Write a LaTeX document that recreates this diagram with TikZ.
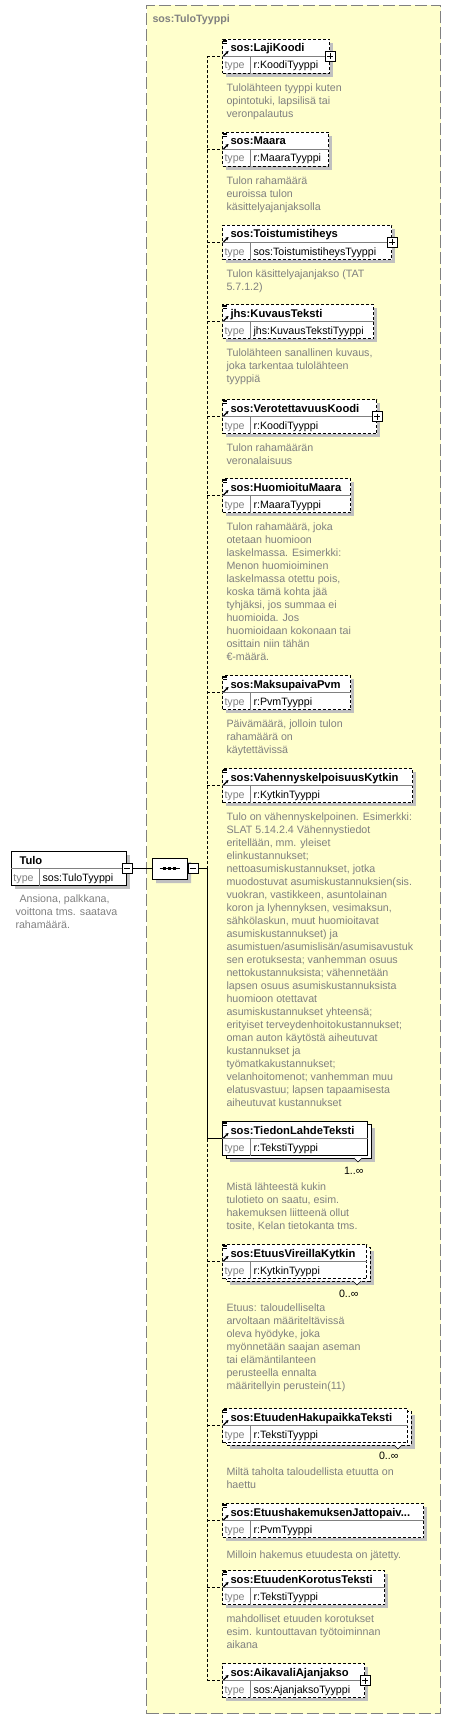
\documentclass[tikz,border=0pt]{standalone}
\usepackage{fontspec}
\setmainfont{Liberation Sans}
\usetikzlibrary{arrows.meta,shapes.misc,positioning}

\definecolor{typefill}{HTML}{FFFFCC}
\definecolor{docgray}{HTML}{808080}
\definecolor{shadowgray}{HTML}{C0C0C0}

\newcommand{\jattoname}{sos:EtuushakemuksenJattopaiv...}

\tikzset{
  optline/.style={dash pattern=on 2.25pt off 1.5pt},
  reqline/.style={},
  elbox/.style={draw,fill=white,inner sep=0,minimum height=25.5pt,anchor=north west},
  elname/.style={font=\fontsize{8.4}{10}\selectfont\bfseries,inner sep=0,anchor=base west},
  eltype/.style={font=\fontsize{8}{10}\selectfont,inner sep=0,anchor=base west},
  typelbl/.style={eltype,text=docgray},
  multlbl/.style={eltype,anchor=base east},
  desc/.style={font=\fontsize{8}{9.75}\selectfont,text=docgray,align=left,inner sep=0,anchor=north west,
    execute at begin node=\strut},
  plusbox/.style={draw,solid,fill=white,inner sep=0,minimum size=7.5pt,
    path picture={\draw[line width=0.6pt] ([xshift=1.5pt]path picture bounding box.west) -- ([xshift=-1.5pt]path picture bounding box.east)
      ([yshift=-1.5pt]path picture bounding box.north) -- ([yshift=1.5pt]path picture bounding box.south);}},
  minusbox/.style={draw,solid,fill=white,inner sep=0,minimum size=7.5pt,
    path picture={\draw[line width=0.6pt] ([xshift=1.5pt]path picture bounding box.west) -- ([xshift=-1.5pt]path picture bounding box.east);}},
  seqshape/.style={chamfered rectangle,chamfered rectangle xsep=3.75pt,draw,fill=white,inner sep=0,
    minimum width=26.25pt,minimum height=15.75pt},
}

\begin{document}
\begin{tikzpicture}[x=0.75pt,y=-0.75pt,line width=0.75pt]
    \useasboundingbox (0,0) rectangle (451,1719);

    % complex type frame
    \node[draw=docgray,fill=typefill,dash pattern=on 9pt off 3pt,inner sep=0,anchor=north west,
          minimum width=220.5pt,minimum height=1281pt] (tuloTyyppi) at (146,5) {};
    \node[font=\fontsize{8}{10}\selectfont\bfseries,text=docgray,inner sep=0,anchor=base west]
          (tuloTyyppi-t) at (152,23) {sos:TuloTyyppi};

    % root element
    \fill[shadowgray] (15,855) rectangle (130,889);
    \node[elbox,minimum width=86.25pt] (tulo) at (11,851) {};
    \draw[docgray] (tulo.west) -- (tulo.east);
    \draw[docgray] ([shift={(28,0)}]tulo.west) -- ([shift={(28,0)}]tulo.south west);
    \node[elname] (tulo-n) at ([shift={(8,13)}]tulo.north west) {Tulo};
    \node[typelbl] (tulo-tl) at ([shift={(2,30)}]tulo.north west) {type};
    \node[eltype] (tulo-ty) at ([shift={(31,30)}]tulo.north west) {sos:TuloTyyppi};
    \node[minusbox] (tulo-m) at (tulo.east) {};
    \node[desc] (tulo-d) at (15,894) {\hspace{3pt}Ansiona, palkkana,\\voittona tms. saatava\\rahamäärä.};

    % sequence
    \node[seqshape,fill=shadowgray,draw=none] (seq-s) at (173.5,872.5) {};
    \node[seqshape] (seq) at (169.5,868.5) {};
    \draw ([shift={(-10,0)}]seq.center) -- ([shift={(10,0)}]seq.center);
    \foreach \dx in {-5,0,5}{%
        \fill ([shift={(\dx-1.5,-1.5)}]seq.center) rectangle +(3,3);
    }
    \node[minusbox,anchor=west] (seq-m) at (seq.east) {};
    \draw (tulo-m) -- (seq);
    \coordinate (spine) at (207,868.5);
    \draw (seq-m) -- (spine);

    % child elements
    \foreach \id/\y/\r/\nm/\ty/\bs/\mu in {
        laji/39/329/sos:LajiKoodi/r:KoodiTyyppi/optline/0,
        maara/132/328/sos:Maara/r:MaaraTyyppi/optline/0,
        toist/225/391/sos:Toistumistiheys/sos:ToistumistiheysTyyppi/optline/0,
        kuvaus/304/373/jhs:KuvausTeksti/jhs:KuvausTekstiTyyppi/optline/0,
        verot/399/376/sos:VerotettavuusKoodi/r:KoodiTyyppi/optline/0,
        huom/478/350/sos:HuomioituMaara/r:MaaraTyyppi/optline/0,
        maksu/675/350/sos:MaksupaivaPvm/r:PvmTyyppi/optline/0,
        vahen/768/412/sos:VahennyskelpoisuusKytkin/r:KytkinTyyppi/optline/0,
        tiedon/1121/367/sos:TiedonLahdeTeksti/r:TekstiTyyppi/reqline/1,
        vireil/1244/366/sos:EtuusVireillaKytkin/r:KytkinTyyppi/optline/1,
        haku/1408/407/sos:EtuudenHakupaikkaTeksti/r:TekstiTyyppi/optline/1,
        jatto/1503/423/\jattoname/r:PvmTyyppi/optline/0,
        korot/1570/384/sos:EtuudenKorotusTeksti/r:TekstiTyyppi/optline/0,
        aika/1663/364/sos:AikavaliAjanjakso/sos:AjanjaksoTyyppi/optline/0}{%
        \ifnum\mu=1
            \fill[shadowgray] (230,\y+7) rectangle (\r+8,\y+41);
            \draw[fill=white,\bs] (226,\y+3) rectangle (\r+4,\y+37);
            \draw[fill=white,solid,line width=0.5pt] (\r-13,\y+37) -- (\r-9,\y+41) -- (\r-5,\y+37);
        \else
            \fill[shadowgray] (226,\y+4) rectangle (\r+4,\y+38);
        \fi
        \node[elbox,\bs,minimum width={(\r-222)*0.75pt}] (\id) at (222,\y) {};
        \draw[docgray] (\id.west) -- (\id.east);
        \draw[docgray] ([shift={(28,0)}]\id.west) -- ([shift={(28,0)}]\id.south west);
        \node[elname] (\id-n) at ([shift={(8,13)}]\id.north west) {\nm};
        \node[typelbl] (\id-tl) at ([shift={(2,30)}]\id.north west) {type};
        \node[eltype] (\id-ty) at ([shift={(31,30)}]\id.north west) {\ty};
        \draw[-{Stealth[length=2.2pt,width=2.4pt]},line width=1pt] ([shift={(1.5,-0.5)}]\id.west) -- +(5,-5);
    }

    % annotation marks
    \foreach \id in {laji,maara,kuvaus,verot,huom,maksu,vahen,tiedon,vireil,haku,jatto,korot}{%
        \draw[line width=0.5pt] ([shift={(1,1)}]\id.north west) -- +(4,0)
            ([shift={(1,2.5)}]\id.north west) -- +(4,0)
            ([shift={(1,4)}]\id.north west) -- +(4,0);
    }

    % expandable children
    \foreach \id in {laji,toist,verot,aika}{%
        \node[plusbox] (\id-p) at (\id.east) {};
    }

    % occurrences
    \node[multlbl] (tiedon-o) at ([shift={(-4,18)}]tiedon.south east) {1..∞};
    \node[multlbl] (vireil-o) at ([shift={(-8,18)}]vireil.south east) {0..∞};
    \node[multlbl] (haku-o) at ([shift={(-9,16)}]haku.south east) {0..∞};

    % connectors
    \draw[optline] (spine) -- (spine |- laji.west);
    \draw (spine) -- (spine |- tiedon.west);
    \draw[optline] (spine |- tiedon.west) -- (spine |- aika.west);
    \foreach \id in {laji,maara,toist,kuvaus,verot,huom,maksu,vahen,vireil,haku,jatto,korot,aika}{%
        \draw[optline] (spine |- \id.west) -- (\id.west);
    }
    \draw (spine |- tiedon.west) -- (tiedon.west);

    % documentation
    \node[desc] (laji-d) at ([shift={(4,9)}]laji.south west) {Tulolähteen tyyppi kuten\\opintotuki, lapsilisä tai\\veronpalautus};
    \node[desc] (maara-d) at ([shift={(4,9)}]maara.south west) {Tulon rahamäärä\\euroissa tulon\\käsittelyajanjaksolla};
    \node[desc] (toist-d) at ([shift={(4,9)}]toist.south west) {Tulon käsittelyajanjakso (TAT\\5.7.1.2)};
    \node[desc] (kuvaus-d) at ([shift={(4,9)}]kuvaus.south west) {Tulolähteen sanallinen kuvaus,\\joka tarkentaa tulolähteen\\tyyppiä};
    \node[desc] (verot-d) at ([shift={(4,9)}]verot.south west) {Tulon rahamäärän\\veronalaisuus};
    \node[desc] (huom-d) at ([shift={(4,9)}]huom.south west) {Tulon rahamäärä, joka\\otetaan huomioon\\laskelmassa. Esimerkki:\\Menon huomioiminen\\laskelmassa otettu pois,\\koska tämä kohta jää\\tyhjäksi, jos summaa ei\\huomioida. Jos\\huomioidaan kokonaan tai\\osittain niin tähän\\€-määrä.};
    \node[desc] (maksu-d) at ([shift={(4,9)}]maksu.south west) {Päivämäärä, jolloin tulon\\rahamäärä on\\käytettävissä};
    \node[desc] (vahen-d) at ([shift={(4,9)}]vahen.south west) {Tulo on vähennyskelpoinen. Esimerkki:\\SLAT 5.14.2.4 Vähennystiedot\\eritellään, mm. yleiset\\elinkustannukset;\\nettoasumiskustannukset, jotka\\muodostuvat asumiskustannuksien(sis.\\vuokran, vastikkeen, asuntolainan\\koron ja lyhennyksen, vesimaksun,\\sähkölaskun, muut huomioitavat\\asumiskustannukset) ja\\asumistuen/asumislisän/asumisavustuk\\sen erotuksesta; vanhemman osuus\\nettokustannuksista; vähennetään\\lapsen osuus asumiskustannuksista\\huomioon otettavat\\asumiskustannukset yhteensä;\\erityiset terveydenhoitokustannukset;\\oman auton käytöstä aiheutuvat\\kustannukset ja\\työmatkakustannukset;\\velanhoitomenot; vanhemman muu\\elatusvastuu; lapsen tapaamisesta\\aiheutuvat kustannukset};
    \node[desc] (tiedon-d) at ([shift={(4,26)}]tiedon.south west) {Mistä lähteestä kukin\\tulotieto on saatu, esim.\\hakemuksen liitteenä ollut\\tosite, Kelan tietokanta tms.};
    \node[desc] (vireil-d) at ([shift={(4,24)}]vireil.south west) {Etuus: taloudelliselta\\arvoltaan määriteltävissä\\oleva hyödyke, joka\\myönnetään saajan aseman\\tai elämäntilanteen\\perusteella ennalta\\määritellyin perustein(11)};
    \node[desc] (haku-d) at ([shift={(4,24)}]haku.south west) {Miltä taholta taloudellista etuutta on\\haettu};
    \node[desc] (jatto-d) at ([shift={(4,11)}]jatto.south west) {Milloin hakemus etuudesta on jätetty.};
    \node[desc] (korot-d) at ([shift={(4,9)}]korot.south west) {mahdolliset etuuden korotukset\\esim. kuntouttavan työtoiminnan\\aikana};
\end{tikzpicture}
\end{document}
